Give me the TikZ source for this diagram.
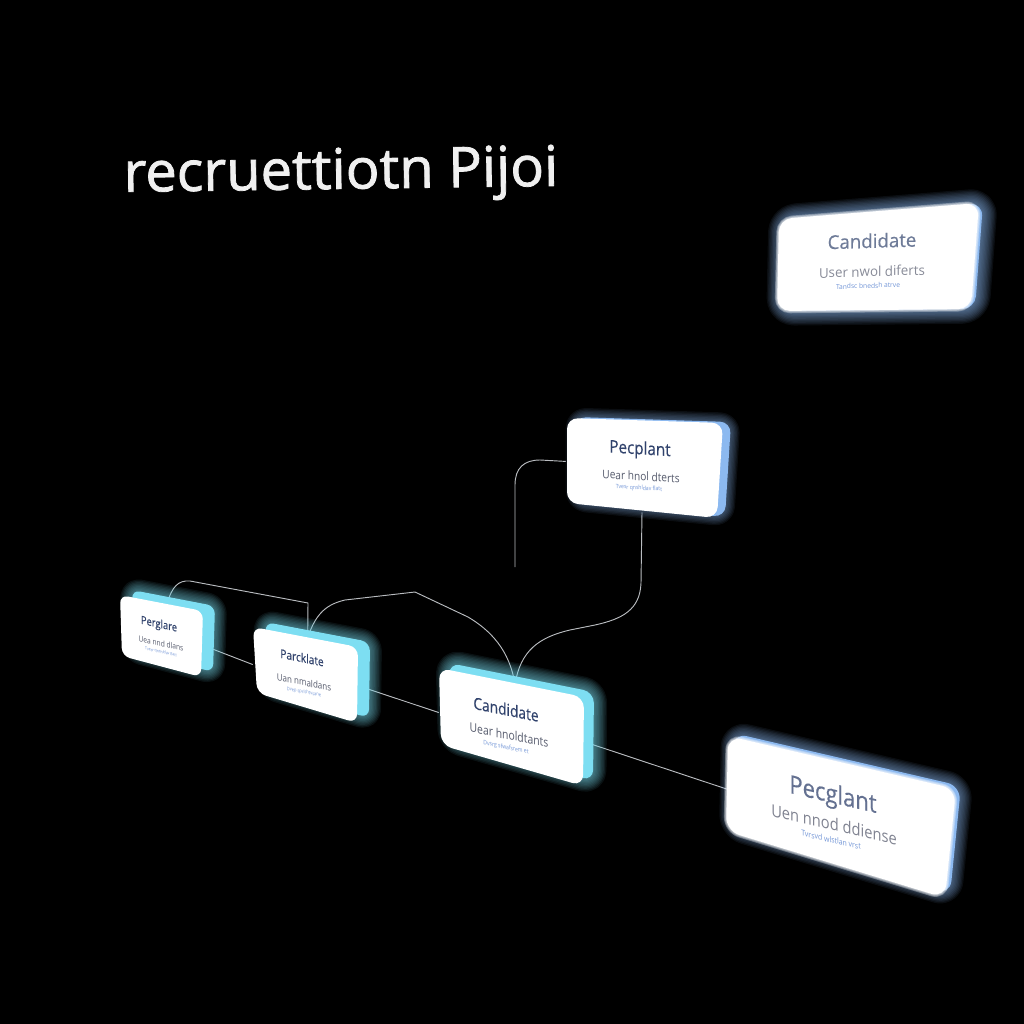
\documentclass[tikz,border=0pt]{standalone}
\usepackage{fontspec}
\setmainfont{Open Sans}
\usetikzlibrary{calc}
\pgfdeclarelayer{wires}
\pgfsetlayers{wires,main}

\definecolor{cyanedge}{RGB}{125,222,242}
\definecolor{blueedge}{RGB}{140,185,240}
\definecolor{titleblue}{RGB}{48,66,108}
\definecolor{subgrey}{RGB}{85,90,108}
\definecolor{smallblue}{RGB}{115,150,215}
\definecolor{wiregrey}{RGB}{185,188,192}

\tikzset{every picture/.style={line width=0.75pt}}
\tikzset{
  wire/.style={draw=wiregrey,line width=0.7pt},
  cardnode/.style={rectangle,inner sep=0pt},
  titletext/.style={inner sep=0pt,text=titleblue,font=\fontsize{#1}{#1}\selectfont\addfontfeature{FakeBold=0.4}},
  subtext/.style={inner sep=0pt,text=subgrey,font=\fontsize{#1}{#1}\selectfont},
  smalltext/.style={inner sep=0pt,text=smallblue,font=\fontsize{#1}{#1}\selectfont},
}

% halo, side face and front face of a card
% #1..#4 corners, #5 side offset, #6 edge colour, #7 halo width, #8 corner radius
\newcommand{\cardface}[8]{%
  \foreach \halo in {1,...,#7}
    \draw[#6,opacity=0.075,line join=round,line width=2*\halo*1pt,shift={#5},rounded corners=#8*0.75pt]
      #1 -- #2 -- #3 -- #4 -- cycle;
  \fill[#6,shift={#5},rounded corners=#8*0.75pt] #1 -- #2 -- #3 -- #4 -- cycle;
  \fill[white,rounded corners=#8*0.75pt] #1 -- #2 -- #3 -- #4 -- cycle;
}
% soft white rim for the out of focus cards
\newcommand{\cardrim}[5]{%
  \foreach \rim in {1,2,3}
    \draw[white,opacity=0.3,line join=round,line width=1.2*\rim*1pt,rounded corners=#5*0.75pt]
      #1 -- #2 -- #3 -- #4 -- cycle;
}

\begin{document}
\begin{tikzpicture}[x=0.75pt,y=-0.75pt]
\useasboundingbox (0,0) rectangle (1024,1024);
\begin{pgfonlayer}{wires}
\fill[black] (0,0) rectangle (1024,1024);
\end{pgfonlayer}

% Heading
\node[inner sep=0pt,text={rgb,255:red,240;green,240;blue,240},font=\fontsize{42}{42}\selectfont\addfontfeature{FakeBold=1.4},rotate=0.8] (heading) at (341,175) {recruettiotn Pijoi};

%Card: far left
\cardface{(120,595)}{(203,611)}{(201,677)}{(122,656)}{(12,-5)}{cyanedge}{9}{8}
\begin{scope}[cm={1,-0.22,0,1.2,(161,636)},transform shape]
\node[cardnode,minimum width=61.5pt,minimum height=40pt] (perglare) at (0,0) {};
\node[titletext=7] (perglaretitle) at (-2,-9) {Perglare};
\node[subtext=5] (perglaresub) at (0,6) {Uea nnd dlans};
\node[smalltext=2.6] (perglaresmall) at (0,13.5) {Tvesr qnshldav flatt};
\end{scope}

%Card: second
\cardface{(253,627)}{(358,647)}{(357,723)}{(257,693)}{(12,-5)}{cyanedge}{9}{9}
\begin{scope}[cm={1,-0.2,0,1.2,(305,675)},transform shape]
\node[cardnode,minimum width=78pt,minimum height=46pt] (parcklate) at (0,0) {};
\node[titletext=7.6] (parcklatetitle) at (-3,-14) {Parcklate};
\node[subtext=6] (parcklatesub) at (-1,6) {Uan nmaldans};
\node[smalltext=3] (parcklatesmall) at (-1,14.5) {Dvep sprlshtvsane};
\end{scope}

%Card: centre
\cardface{(439,668)}{(584,697)}{(583,786)}{(441,745)}{(10,-5)}{cyanedge}{10}{11}
\begin{scope}[cm={1,-0.2,0,1.2,(511,727)},transform shape]
\node[cardnode,minimum width=108pt,minimum height=52pt] (candidate) at (0,0) {};
\node[titletext=10.3] (candidatetitle) at (-5,-14) {Candidate};
\node[subtext=7.8] (candidatesub) at (-2,7) {Uear hnoldtants};
\node[smalltext=3.8] (candidatesmall) at (-5,18) {Dvsrg sfwafsrem et};
\end{scope}

%Card: upper
\cardface{(567,418)}{(723,423)}{(717,518)}{(567,503)}{(8,-1)}{blueedge}{7}{11}
\begin{scope}[cm={1,-0.06,0,1.15,(642,466)},transform shape]
\node[cardnode,minimum width=114pt,minimum height=60pt] (pecplant) at (0,0) {};
\node[titletext=11.4] (pecplanttitle) at (-2,-14) {Pecplant};
\node[subtext=7.6] (pecplantsub) at (-1,9) {Uear hnol dterts};
\node[smalltext=3.8] (pecplantsmall) at (-3,19.5) {Tvesr qnshldav flatt};
\end{scope}

%Card: lower right
\cardface{(728,736)}{(956,789)}{(945,898)}{(726,831)}{(5,-3)}{blueedge}{9}{14}
\cardrim{(728,736)}{(956,789)}{(945,898)}{(726,831)}{14}
\begin{scope}[cm={1,-0.23,0,1.15,(839,815)},transform shape]
\node[cardnode,minimum width=166pt,minimum height=68pt] (pecglant) at (0,0) {};
\node[titletext=16.5] (pecglanttitle) at (-6,-15) {\textcolor{titleblue!75}{Pecglant}};
\node[subtext=11] (pecglantsub) at (-5,9) {\textcolor{subgrey!75}{Uen nnod ddiense}};
\node[smalltext=5.2] (pecglantsmall) at (-8,23) {Tvrsvd wlstlan vrst};
\end{scope}

%Card: far upper right
\cardface{(779,219)}{(979,203)}{(971,309)}{(777,311)}{(4,0)}{blueedge}{11}{13}
\cardrim{(779,219)}{(979,203)}{(971,309)}{(777,311)}{13}
\begin{scope}[cm={1,0.03,0,1.02,(875,259)},transform shape]
\node[cardnode,minimum width=147pt,minimum height=70pt] (farcand) at (0,0) {};
\node[titletext=14] (farcandtitle) at (-3,-18) {\textcolor{titleblue!70}{Candidate}};
\node[subtext=10] (farcandsub) at (-3,12) {\textcolor{subgrey!70}{User nwol diferts}};
\node[smalltext=5] (farcandsmall) at (-7,26) {Tandsc bnedsh atrve};
\end{scope}

% Connectors
\begin{pgfonlayer}{wires}
\coordinate (joint) at (308,603);
\coordinate (freeend) at (515,567);
\draw[wire] (perglare.east) -- (parcklate.west);
\draw[wire] (parcklate.east) -- (candidate.west);
\draw[wire] (candidate.east) -- (pecglant.west);
\draw[wire] ([xshift=4.5pt]perglare.north) .. controls (172,587) and (178,580) .. (190,581) -- (joint) -- ([xshift=2pt]parcklate.north);
\draw[wire] ([xshift=2pt]parcklate.north) .. controls (316,612) and (328,604) .. (345,600) -- (415,592) -- (468,617) .. controls (490,630) and (510,650) .. ([xshift=3pt]candidate.north);
\draw[wire] (pecplant.south) -- (641,583) .. controls (640,610) and (622,619) .. (595,625) -- (570,630) .. controls (540,637) and (520,650) .. ([xshift=3pt]candidate.north);
\draw[wire] (pecplant.west) -- (540,460) .. controls (524,460) and (515,468) .. (515,485) -- (freeend);
\end{pgfonlayer}
\end{tikzpicture}
\end{document}
